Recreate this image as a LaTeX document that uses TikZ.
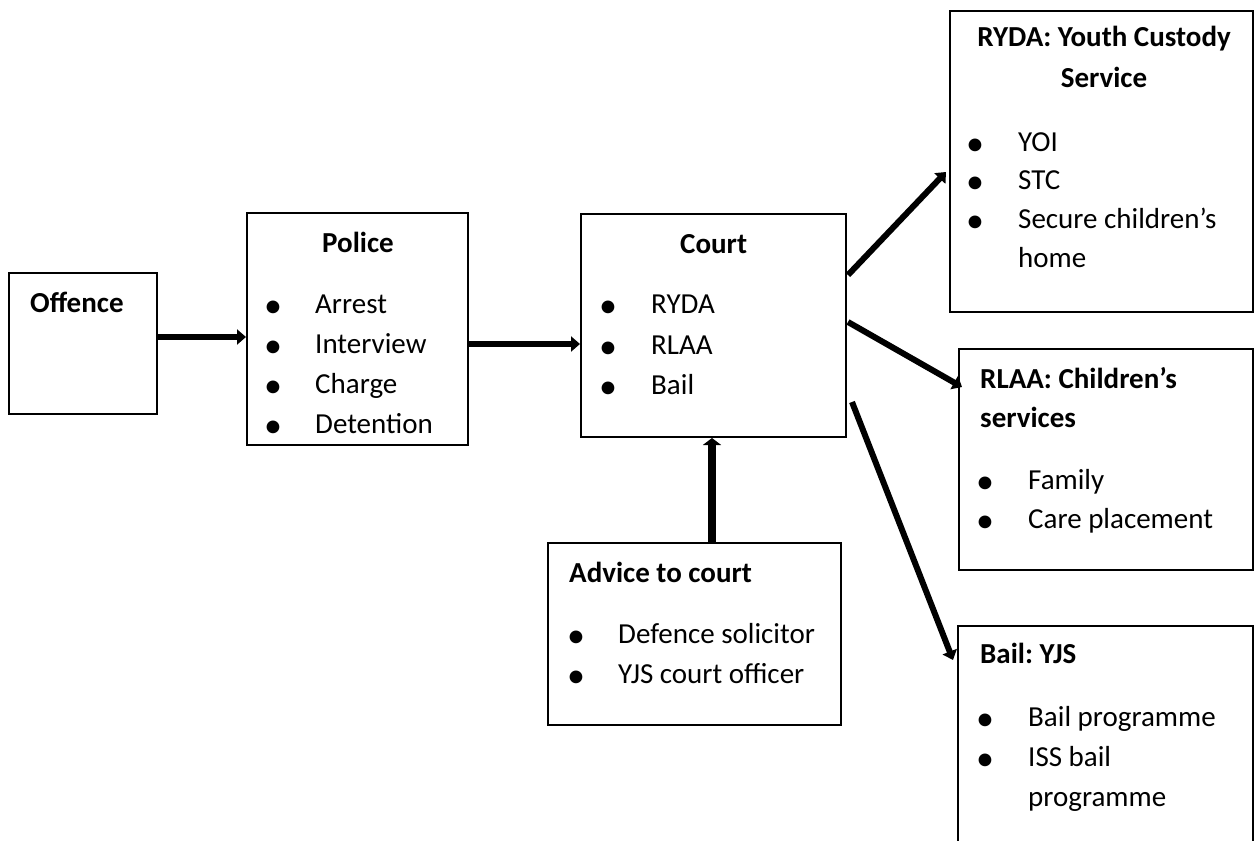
\documentclass[tikz,border=0pt]{standalone}
\usepackage{fontspec}
\setmainfont{Carlito}
\frenchspacing
\usetikzlibrary{arrows.meta}
\tikzset{
  box/.style={draw=black, line width=2pt, rectangle, inner sep=0pt, fill=none},
  txt/.style={anchor=base west, inner sep=0pt, font=\fontsize{29}{40}\selectfont},
  ttl/.style={txt, font=\fontsize{29}{40}\selectfont\bfseries},
  ctl/.style={anchor=base, inner sep=0pt, font=\fontsize{29}{40}\selectfont\bfseries},
  bul/.style={anchor=base, inner sep=0pt, yshift=-4pt, font=\fontsize{36}{40}\selectfont},
  arr/.style={line width=6pt, -{Triangle[length=9pt,width=15pt]}},
  arrv/.style={line width=8.5pt, -{Triangle[length=7pt,width=18pt]}}
}
\begin{document}
\begin{tikzpicture}[x=1pt,y=-1pt]
\useasboundingbox (0,0) rectangle (1254,841);
% boxes
\node[box, minimum width=148pt, minimum height=141pt] (off) at (83,343.5) {};
\node[box, minimum width=221pt, minimum height=232pt] (pol) at (357.5,329) {};
\node[box, minimum width=265pt, minimum height=223pt] (court) at (713.5,325.5) {};
\node[box, minimum width=293pt, minimum height=182pt] (adv) at (694.5,634) {};
\node[box, minimum width=303pt, minimum height=301pt] (ryda) at (1101.5,161.5) {};
\node[box, minimum width=294pt, minimum height=221pt] (rlaa) at (1106,459.5) {};
\node[box, minimum width=295pt, minimum height=254pt] (bail) at (1105.5,753) {};
% Offence
\node[ttl] (offt) at (30,312) {Offence};
% Police
\node[ttl] (polt) at (322,252) {Police};
\node[bul] (pb1) at (273,313) {•}; \node[txt] (p1) at (315,313) {Arrest};
\node[bul] (pb2) at (273,353) {•}; \node[txt] (p2) at (315,353) {Interview};
\node[bul] (pb3) at (273,393) {•}; \node[txt] (p3) at (315,393) {Charge};
\node[bul] (pb4) at (273,433) {•}; \node[txt] (p4) at (315,433) {Detention};
% Court
\node[ttl] (courtt) at (680,253) {Court};
\node[bul] (cb1) at (608,313) {•}; \node[txt] (c1) at (651,313) {RYDA};
\node[bul] (cb2) at (608,354) {•}; \node[txt] (c2) at (651,354) {RLAA};
\node[bul] (cb3) at (608,394) {•}; \node[txt] (c3) at (651,394) {Bail};
% Advice
\node[ttl] (advt) at (569,582) {Advice to court};
\node[bul] (ab1) at (576,643) {•}; \node[txt] (a1) at (618,643) {Defence solicitor};
\node[bul] (ab2) at (576,683) {•}; \node[txt] (a2) at (618,683) {YJS court officer};
% RYDA
\node[ctl] (rt1) at (1104,46) {RYDA: Youth Custody};
\node[ctl] (rt2) at (1104,87) {Service};
\node[bul] (rb1) at (975,151) {•}; \node[txt] (r1) at (1018,151) {YOI};
\node[bul] (rb2) at (975,189) {•}; \node[txt] (r2) at (1018,189) {STC};
\node[bul] (rb3) at (975,228) {•}; \node[txt] (r3) at (1018,228) {Secure children’s};
\node[txt] (r4) at (1018,267) {home};
% RLAA
\node[ttl] (lt1) at (980,388) {RLAA: Children’s};
\node[ttl] (lt2) at (980,427) {services};
\node[bul] (lb1) at (985,489) {•}; \node[txt] (l1) at (1028,489) {Family};
\node[bul] (lb2) at (985,528) {•}; \node[txt] (l2) at (1028,528) {Care placement};
% Bail
\node[ttl] (bt1) at (980,663) {Bail: YJS};
\node[bul] (bb1) at (985,726) {•}; \node[txt] (b1) at (1028,726) {Bail programme};
\node[bul] (bb2) at (985,766) {•}; \node[txt] (b2) at (1028,766) {ISS bail};
\node[txt] (b3) at (1028,806) {programme};
% connectors
\coordinate (ya) at (0,337);
\coordinate (yb) at (0,344);
\coordinate (xa) at (712,0);
\draw[arr] (off.east |- ya) -- (pol.west |- ya);
\draw[arr] (pol.east |- yb) -- (court.west |- yb);
\draw[arrv] (adv.north -| xa) -- (court.south -| xa);
\coordinate (s1) at (848,275);
\coordinate (e1) at (946,172);
\coordinate (s2) at (848,322);
\coordinate (e2) at (962,387);
\coordinate (s3) at (852,402);
\coordinate (e3) at (953,660);
\draw[arr] (s1) -- (e1);
\draw[arr] (s2) -- (e2);
\draw[arr] (s3) -- (e3);
\end{tikzpicture}
\end{document}
